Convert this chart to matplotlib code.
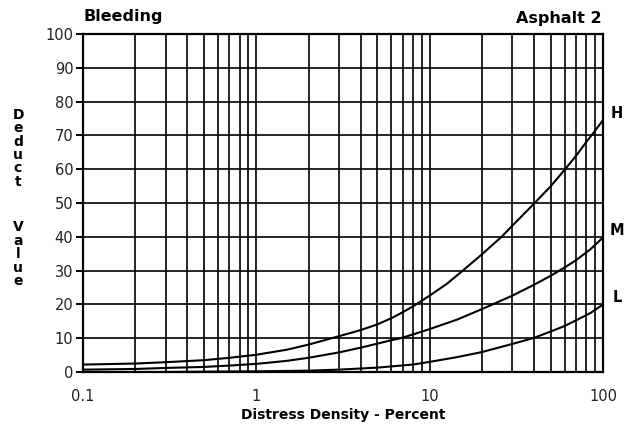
import matplotlib.pyplot as plt
from matplotlib.ticker import LogLocator, NullFormatter, FixedLocator
import numpy as np

# Curvas de valor deduzido
h_density = [0.1, 0.2, 0.3, 0.5, 0.7, 1, 1.5, 2, 3, 4, 5, 6, 7, 8, 10, 12.5, 15.2,
             20, 26, 30, 40, 50, 60, 70, 80, 90, 100]
h_value = [2.2, 2.5, 2.9, 3.5, 4.2, 5.1, 6.6, 8.1, 10.6, 12.4, 14.1, 15.9, 17.7, 19.4,
           22.6, 26.0, 29.6, 34.8, 40, 43.3, 49.8, 55, 59.8, 64.0, 68.0, 71.4, 74.5]

m_density = [0.1, 0.2, 0.3, 0.5, 0.7, 1, 1.5, 2, 3, 4, 5, 6, 6.8, 8, 10, 14.4,
             20, 30, 40, 50, 60, 70, 85, 100]
m_value = [0.7, 0.9, 1.2, 1.5, 1.9, 2.4, 3.3, 4.2, 5.8, 7.2, 8.4, 9.4, 10, 11.1, 12.7,
           15.5, 18.6, 22.6, 25.8, 28.5, 30.9, 33.1, 36.4, 39.8]

l_density = [0.1, 0.3, 0.5, 1, 2, 3, 5, 8, 10, 14.4, 20, 30, 40, 50, 60, 70, 85, 100]
l_value = [0.0, 0.0, 0.1, 0.2, 0.4, 0.7, 1.3, 2.2, 3.0, 4.4, 5.9, 8.3, 10.1, 12.0,
           13.6, 15.3, 17.5, 20]

curve_labels = ['H', 'M', 'L']
x_ticks = [0.1, 1, 10, 100]
x_tick_labels = ['0.1', '1', '10', '100']
y_ticks = list(range(0, 101, 10))

fig = plt.figure(figsize=(6.42, 4.29), dpi=100)
ax = fig.add_axes([83 / 642, 57 / 429, 520 / 642, 338 / 429])

ax.set_xscale('log')
ax.set_xlim(0.1, 100)
ax.set_ylim(0, 100)

curves = [(h_density, h_value), (m_density, m_value), (l_density, l_value)]
for (xs, ys), lab in zip(curves, curve_labels):
    ax.plot(xs, ys, color='black', lw=1.5, zorder=3, solid_joinstyle='round')
    ax.annotate(lab, xy=(xs[-1], ys[-1]), xytext=(14, 7), textcoords='offset pixels',
                ha='center', va='center', fontsize=10.5, fontweight='bold', annotation_clip=False)

# grade: todas as linhas menores no eixo x
ax.xaxis.set_major_locator(FixedLocator(x_ticks))
ax.xaxis.set_minor_locator(LogLocator(base=10, subs=np.arange(2, 10)))
ax.xaxis.set_minor_formatter(NullFormatter())
ax.set_xticks(x_ticks)
ax.set_xticklabels(x_tick_labels)
ax.set_yticks(y_ticks)
ax.grid(which='both', axis='x', color='black', lw=1.2)
ax.grid(which='major', axis='y', color='black', lw=1.2)
ax.set_axisbelow(True)

for s in ax.spines.values():
    s.set_linewidth(1.6)

ax.tick_params(axis='x', which='both', length=0, pad=12, labelsize=10.5, colors='#222222')
ax.tick_params(axis='y', length=5, width=1.4, pad=2, labelsize=10.5, labelcolor='#222222')

ax.set_xlabel('Distress Density - Percent', fontsize=10, fontweight='bold', labelpad=3)

fig.text(84 / 642, 1 - 16 / 429, 'Bleeding', fontsize=11.5, fontweight='bold', va='center', ha='left')
fig.text(602 / 642, 1 - 18 / 429, 'Asphalt 2', fontsize=11.5, fontweight='bold', va='center', ha='right')

fig.text(18 / 642, 1 - 108 / 429, '\n'.join('Deduct'), fontsize=10, fontweight='bold',
         ha='center', va='top', linespacing=0.94)
fig.text(18 / 642, 1 - 220 / 429, '\n'.join('Value'), fontsize=10, fontweight='bold',
         ha='center', va='top', linespacing=0.96)

fig.savefig('out.png', dpi=100)
